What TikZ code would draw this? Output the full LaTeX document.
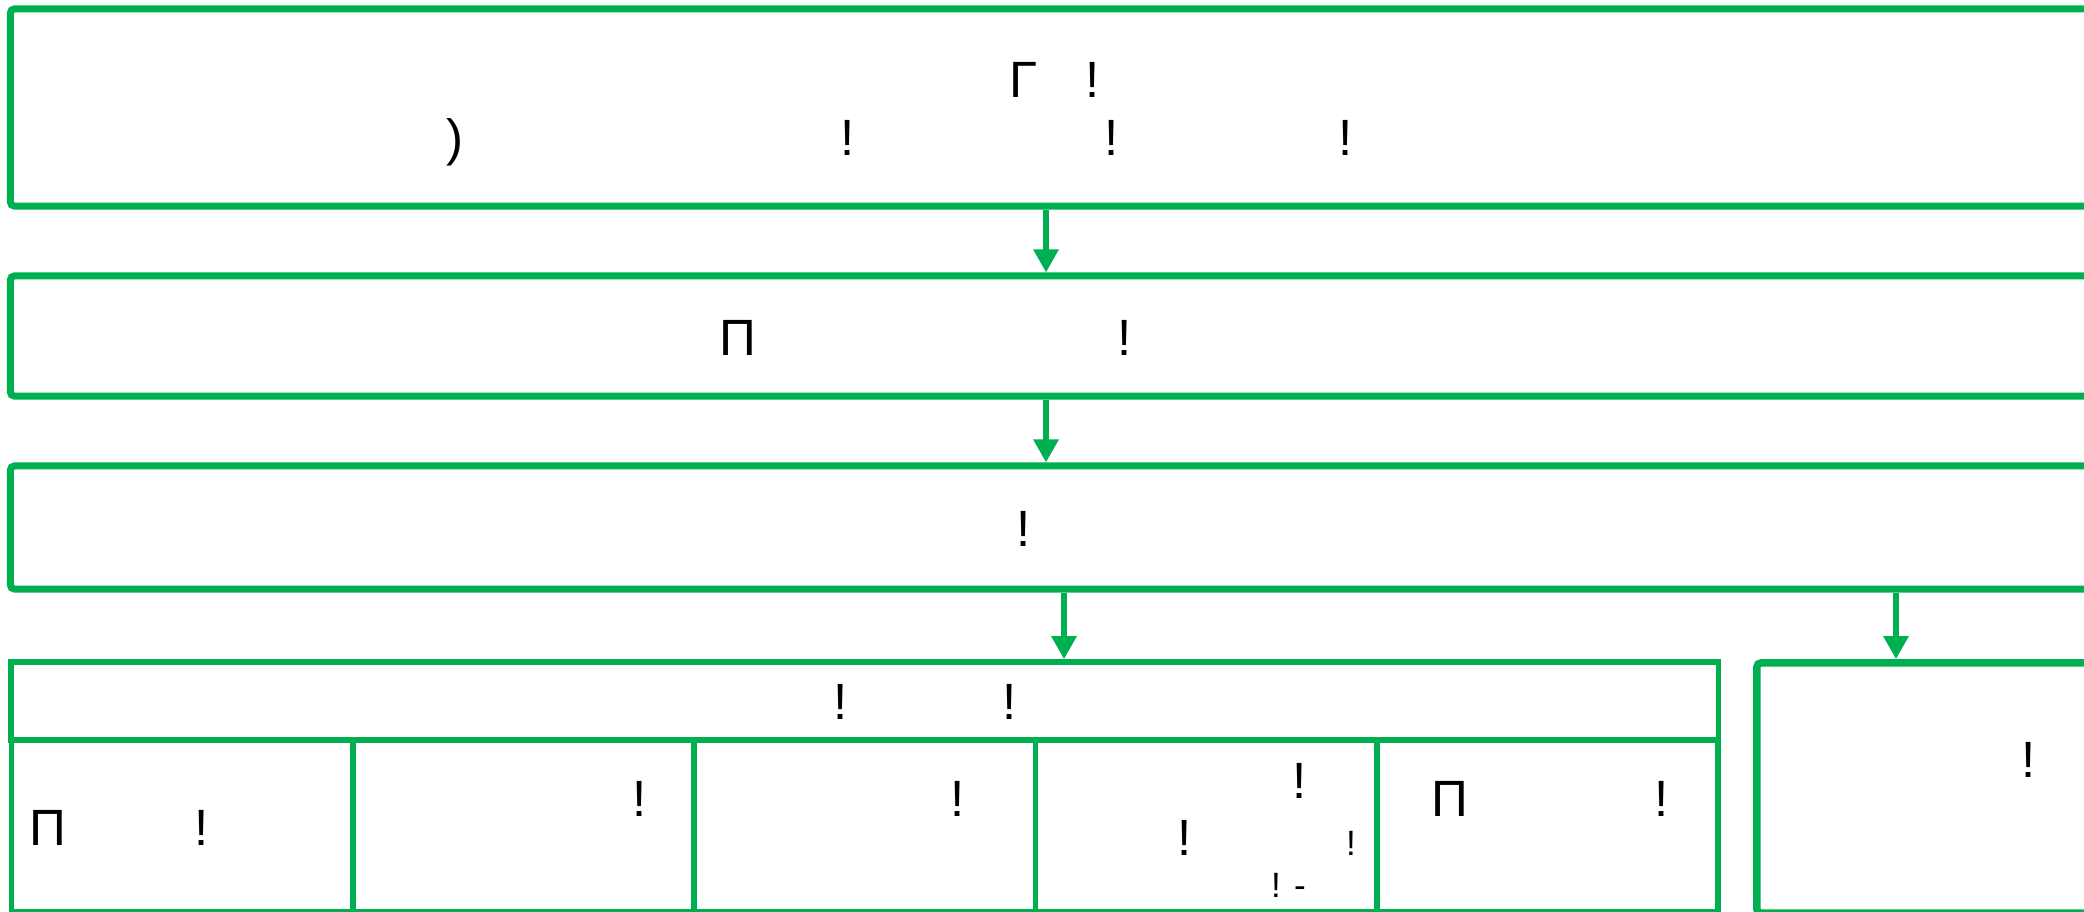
\documentclass[tikz,border=0pt]{standalone}
\usepackage{fontspec}
\setmainfont{Liberation Sans}
\usetikzlibrary{arrows.meta, positioning}
\definecolor{FlowGreen}{HTML}{00B050}

\begin{document}
\begin{tikzpicture}[
    x=0.01cm, y=-0.01cm,
    font=\fontsize{14.5pt}{17pt}\selectfont,
    >={Triangle[length=2.3mm,width=2.4mm]},
    line/.style={draw=FlowGreen, line width=0.6mm, ->},
    stage/.style={
        rectangle, rounded corners=0.4mm,
        draw=FlowGreen, line width=0.7mm,
        minimum width=21.09cm, inner sep=0pt
    },
    cell/.style={rectangle, draw=FlowGreen, line width=0.55mm, inner sep=0pt},
    glyph/.style={inner sep=0pt, anchor=base},
    smallglyph/.style={glyph, font=\fontsize{10pt}{12pt}\selectfont}
  ]
  \useasboundingbox (0,0) rectangle (2084,911);
  \clip (0,0) rectangle (2084,911);

  % --- Stages (run off the right edge) ---
  \node[stage, minimum height=1.97cm] (intro) at (1065.5,107.5) {};
  \node[stage, minimum height=1.2cm] (prep) at (1065.5,336) {};
  \node[stage, minimum height=1.23cm] (split) at (1065.5,527.5) {};

  % --- Bottom left group: header and five cells ---
  \node[cell, minimum width=17.065cm, minimum height=0.78cm] (head) at (864.75,701) {};
  \foreach \i in {1,...,5}
    \node[cell, minimum width=3.413cm, minimum height=1.72cm] (c\i) at ({11.5+341.3*(\i-0.5)},826) {};

  % --- Bottom right box ---
  \node[stage, minimum width=3.63cm, minimum height=2.5cm, line width=0.75mm] (side) at (1938.5,788) {};

  % --- Flows ---
  \coordinate (ax1) at (1046,0);
  \coordinate (ax3) at (1064,0);
  \coordinate (ax4) at (1896,0);
  \path[line] (intro.south -| ax1) -- (prep.north -| ax1);
  \path[line] (prep.south -| ax1) -- (split.north -| ax1);
  \path[line] (split.south -| ax3) -- (head.north -| ax3);
  \path[line] (split.south -| ax4) -- (side.north -| ax4);

  % --- Texts ---
  \node[glyph] (t1) at (1024,97) {Γ};
  \node[glyph] (t2) at (1093,97) {!};
  \node[glyph] (t3) at (455,155) {)};
  \node[glyph] (t4) at (848,155) {!};
  \node[glyph] (t5) at (1112,155) {!};
  \node[glyph] (t6) at (1346,155) {!};

  \node[glyph] (p1) at (738,355) {Π};
  \node[glyph] (p2) at (1125,355) {!};

  \node[glyph] (s1) at (1024,546) {!};

  \node[glyph] (h1) at (841,719) {!};
  \node[glyph] (h2) at (1010,719) {!};

  \node[glyph] (c1a) at (47.5,845) {Π};
  \node[glyph] (c1b) at (202,845) {!};
  \node[glyph] (c2a) at (640,816) {!};
  \node[glyph] (c3a) at (958,816) {!};
  \node[glyph] (c4a) at (1300,798) {!};
  \node[glyph] (c4b) at (1185,855) {!};
  \node[smallglyph] (c4c) at (1351,855) {!};
  \node[smallglyph] (c4d) at (1276,897) {!};
  \node[smallglyph] (c4e) at (1300,897) {-};
  \node[glyph] (c5a) at (1450,816) {Π};
  \node[glyph] (c5b) at (1662,816) {!};

  \node[glyph] (r1) at (2029,777) {!};
\end{tikzpicture}
\end{document}
